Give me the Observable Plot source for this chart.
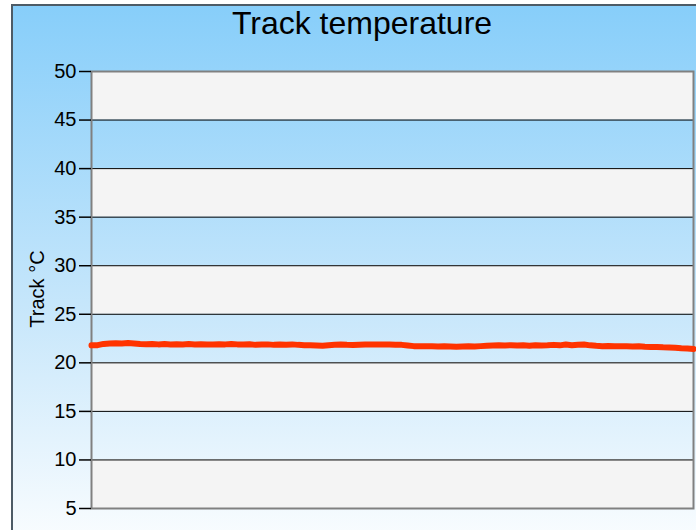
<!DOCTYPE html>
<html>
<head>
<meta charset="utf-8">
<script src="https://cdn.jsdelivr.net/npm/d3@7"></script>
<script src="https://cdn.jsdelivr.net/npm/@observablehq/plot@0.6"></script>
<style>
  html, body { margin: 0; padding: 0; background: #ffffff; }
  #wrap { position: relative; width: 696px; height: 530px; overflow: hidden; font-family: "Liberation Sans", Arial, sans-serif; }
  #bg { position: absolute; left: 11px; top: 4px; width: 720px; height: 560px; border: 2px solid #4d5b66; background: linear-gradient(to bottom, #87cefa 0%, #c8e7fb 55%, #ffffff 100%); }
  #title { position: absolute; left: 12px; width: 700px; top: 7px; text-align: center; font-size: 32px; line-height: 32px; color: #000; }
  #ylabel { position: absolute; left: 37px; top: 289px; width: 0; height: 0; }
  #ylabel span { position: absolute; left: 0; top: 0; transform: translate(-50%, -50%) rotate(-90deg); white-space: nowrap; font-size: 20px; line-height: 20px; color: #000; }
  #chart { position: absolute; left: 0; top: 0; }
</style>
</head>
<body>
<div id="wrap">
  <div id="bg"></div>
  <div id="title">Track temperature</div>
  <div id="chart"></div>
  <div id="ylabel"><span id="ylabelText"></span></div>
</div>
<script>
// Data
const yTicks = [5, 10, 15, 20, 25, 30, 35, 40, 45, 50];
const bandLow = [45, 35, 25, 15, 5];
const bandHigh = [50, 40, 30, 20, 10];
const yLabel = "Track °C";
const trackTemp = [
  21.80, 21.82, 21.95, 22.00, 22.02, 22.00, 22.03, 22.00, 21.95, 21.92,
  21.95, 21.90, 21.93, 21.90, 21.92, 21.88, 21.93, 21.90, 21.92, 21.90,
  21.88, 21.92, 21.90, 21.95, 21.90, 21.88, 21.92, 21.85, 21.88, 21.90,
  21.85, 21.88, 21.87, 21.90, 21.85, 21.82, 21.80, 21.78, 21.76, 21.82,
  21.86, 21.88, 21.85, 21.84, 21.87, 21.90, 21.88, 21.90, 21.88, 21.90,
  21.87, 21.85, 21.78, 21.72, 21.70, 21.72, 21.70, 21.68, 21.70, 21.68,
  21.66, 21.68, 21.70, 21.68, 21.72, 21.75, 21.78, 21.80, 21.78, 21.82,
  21.78, 21.80, 21.76, 21.82, 21.78, 21.80, 21.85, 21.80, 21.88, 21.82,
  21.86, 21.88, 21.80, 21.75, 21.72, 21.73, 21.70, 21.72, 21.70, 21.68,
  21.70, 21.65, 21.62, 21.64, 21.60, 21.58, 21.55, 21.50, 21.48, 21.42
];

document.getElementById("ylabelText").textContent = yLabel;

const series = trackTemp.map((v, i) => ({i, v}));
const bands = bandLow.map((lo, k) => ({lo, hi: bandHigh[k]}));

const chart = Plot.plot({
  width: 696,
  height: 530,
  marginTop: 71,
  marginBottom: 22,
  marginLeft: 91,
  marginRight: 3,
  style: {background: "transparent", fontFamily: "'Liberation Sans', Arial, sans-serif", fontSize: "20px", color: "#000"},
  x: {domain: [0, trackTemp.length - 1], axis: null},
  y: {domain: [5, 50], axis: null},
  marks: [
    Plot.rect(bands, {y1: "lo", y2: "hi", fill: "#f4f4f4"}),
    Plot.ruleY(yTicks, {stroke: "#000", strokeWidth: 1}),
    Plot.frame({stroke: "#808080", strokeWidth: 2}),
    Plot.axisY({ticks: yTicks, tickSize: 12, tickPadding: 3, fontSize: 20, label: null, stroke: "#000", strokeWidth: 1.5}),
    Plot.line(series, {x: "i", y: "v", stroke: "#ff3300", strokeWidth: 6, strokeLinejoin: "round", strokeLinecap: "round"})
  ]
});
document.getElementById("chart").appendChild(chart);
</script>
</body>
</html>
